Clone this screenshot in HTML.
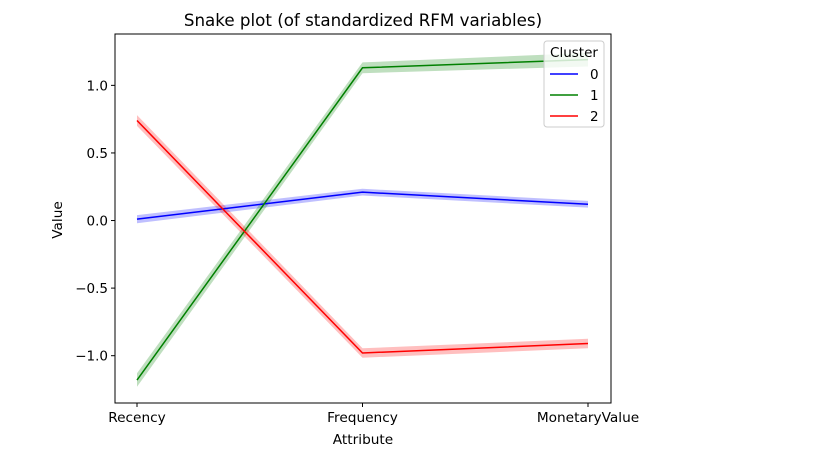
<!DOCTYPE html>
<html><head><meta charset="utf-8"><style>
body{margin:0;background:#fff;font-family:"Liberation Sans","DejaVu Sans",sans-serif}
svg text{font-family:"DejaVu Sans","Liberation Sans",sans-serif}
</style></head><body>
<svg id="chart" width="822" height="470"></svg>
<script>
const categories=["Recency","Frequency","MonetaryValue"];
const clusters=["0","1","2"];
const colors=["#0000ff","#008000","#ff0000"];
const mean0=[0.01,0.21,0.12];
const mean1=[-1.18,1.13,1.19];
const mean2=[0.74,-0.98,-0.91];
const ci0=[0.03,0.025,0.025];
const ci1=[0.05,0.04,0.05];
const ci2=[0.04,0.035,0.035];
const yTicks=[-1.0,-0.5,0.0,0.5,1.0];
const yTickLabels=["\u22121.0","\u22120.5","0.0","0.5","1.0"];
const means=[mean0,mean1,mean2], cis=[ci0,ci1,ci2];
const L=115,R=611,T=34,B=403,yMin=-1.35,yMax=1.38;
const x=i=>137+i*(588-137)/(categories.length-1);
const y=v=>B-(v-yMin)/(yMax-yMin)*(B-T);
const svg=document.getElementById('chart');const NS="http://www.w3.org/2000/svg";
function mk(t,a,txt){const e=document.createElementNS(NS,t);for(const k in a)e.setAttribute(k,a[k]);if(txt!==undefined)e.textContent=txt;svg.appendChild(e);return e;}
let e;
e=mk('text',{x:363,y:26,'text-anchor':'middle','font-size':16.7},'Snake plot (of standardized RFM variables)');


yTicks.forEach((v,i)=>{
 e=mk('line',{x1:L-4,x2:L,y1:y(v),y2:y(v),stroke:'#000'});
 
 
 e=mk('text',{x:L-7,y:y(v)+5,'text-anchor':'end','font-size':13.5},yTickLabels[i]);
 
 
});
categories.forEach((c,i)=>{
 e=mk('line',{x1:x(i),x2:x(i),y1:B,y2:B+4,stroke:'#000'});
 
 
 e=mk('text',{x:x(i),y:B+19,'text-anchor':'middle','font-size':13.7},c);
 
 
});
means.forEach((m,s)=>{
 let up=m.map((v,i)=>x(i)+','+y(v+cis[s][i])).join(' ');
 let dn=m.map((v,i)=>x(i)+','+y(v-cis[s][i])).reverse().join(' ');
 e=mk('polygon',{points:up+' '+dn,fill:colors[s],'fill-opacity':0.25});
 
 
});
means.forEach((m,s)=>{
 e=mk('polyline',{points:m.map((v,i)=>x(i)+','+y(v)).join(' '),fill:'none',stroke:colors[s],'stroke-width':1.5});
 
 
});
e=mk('rect',{x:L,y:T,width:R-L,height:B-T,fill:'none',stroke:'#000','stroke-width':1});


e=mk('text',{x:363,y:444,'text-anchor':'middle','font-size':13.7},'Attribute');


e=mk('text',{x:62,y:220,'text-anchor':'middle','font-size':13.7,transform:'rotate(-90 62 220)'},'Value');


e=mk('rect',{x:544,y:41,width:60,height:86,rx:3,fill:'#fff','fill-opacity':0.8,stroke:'#ccc'});


e=mk('text',{x:574,y:57,'text-anchor':'middle','font-size':13.5},'Cluster');


clusters.forEach((c,s)=>{
 const ly=74+s*21;
 e=mk('line',{x1:550,x2:578,y1:ly,y2:ly,stroke:colors[s],'stroke-width':1.5});
 
 
 e=mk('text',{x:590,y:ly+5,'font-size':13.5},c);
 
 
});
</script>
</body></html>
